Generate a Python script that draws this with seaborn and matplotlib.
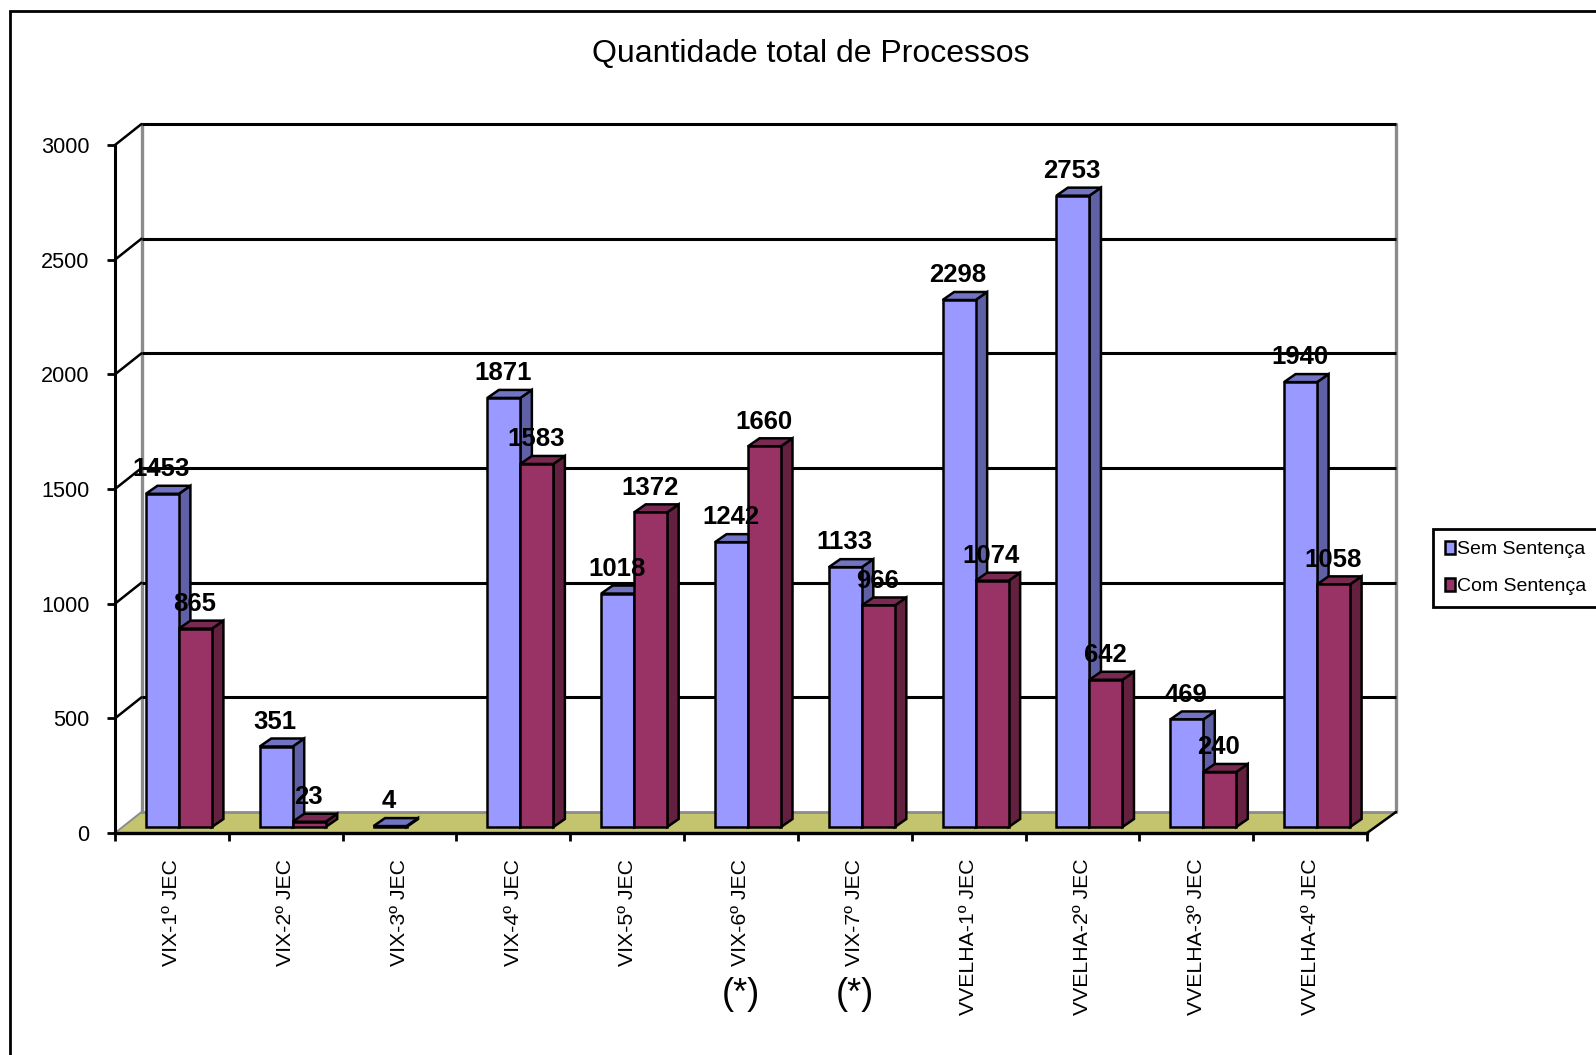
import numpy as np
import pandas as pd
import matplotlib.pyplot as plt
import seaborn as sns
from matplotlib.patches import Polygon, Rectangle, Patch

sns.set_style('white')
plt.rcParams['font.family'] = ['Liberation Sans', 'DejaVu Sans']
plt.rcParams['text.color'] = 'black'
plt.rcParams['xtick.color'] = 'black'
plt.rcParams['ytick.color'] = 'black'

# Data
categories = ['VIX-1º JEC', 'VIX-2º JEC', 'VIX-3º JEC', 'VIX-4º JEC', 'VIX-5º JEC', 'VIX-6º JEC',
              'VIX-7º JEC', 'VVELHA-1º JEC', 'VVELHA-2º JEC', 'VVELHA-3º JEC', 'VVELHA-4º JEC']
sem_sentenca = [1453, 351, 4, 1871, 1018, 1242, 1133, 2298, 2753, 469, 1940]
com_sentenca = [865, 23, np.nan, 1583, 1372, 1660, 966, 1074, 642, 240, 1058]
y_ticks = [0, 500, 1000, 1500, 2000, 2500, 3000]
marked = [5, 6]  # categories flagged with (*)

W, H = 1596, 1055
blue, blue_side, blue_top = '#9999FF', '#6060A6', '#7373C4'
red, red_side, red_top = '#993366', '#64213F', '#7A2A52'
floor_color = '#C4C46E'

df = pd.DataFrame({
    'cat': categories * 2,
    'serie': ['Sem Sentença'] * 11 + ['Com Sentença'] * 11,
    'valor': sem_sentenca + com_sentenca,
})

fig = plt.figure(figsize=(W / 100, H / 100), dpi=100)
# front plane of the fake 3D box
left, right, top, bottom = 115, 1367, 145, 833
ax = fig.add_axes([left / W, 1 - bottom / H, (right - left) / W, (bottom - top) / H])
ax.patch.set_alpha(0)

sns.barplot(data=df, x='cat', y='valor', hue='serie', order=categories,
            hue_order=['Sem Sentença', 'Com Sentença'],
            palette=[blue, red], saturation=1, width=0.58, gap=0, dodge=True,
            edgecolor='black', linewidth=1.8, legend=False, ax=ax)
ax.set_xlim(-0.5, 10.5)
ax.set_ylim(0, 3000)

# pixel -> data factors
px = 1 / ((right - left) / 11)
py = 3000 / (bottom - top)

# back wall and floor
dx_l, dx_r, wall_dy = 26.5 * px, 29 * px, 21 * py
x0, x1 = -0.5, 10.5
xb0, xb1 = x0 + dx_l, x1 + dx_r
ax.add_patch(Polygon([(x0, 0), (x1, 0), (xb1, wall_dy), (xb0, wall_dy)],
                     closed=True, fc=floor_color, ec='none', zorder=1, clip_on=False))
for v in y_ticks[1:]:
    ax.plot([xb0, xb1], [v + wall_dy, v + wall_dy], color='black', lw=2.2,
            zorder=1.5, clip_on=False, solid_capstyle='butt')
    ax.plot([x0, xb0], [v, v + wall_dy], color='black', lw=1.8, zorder=1.5, clip_on=False)
ax.plot([xb0, xb1], [wall_dy, wall_dy], color='#8c8c8c', lw=2, zorder=1.5, clip_on=False)
ax.plot([x1, xb1], [0, wall_dy], color='black', lw=1.8, zorder=1.5, clip_on=False)
ax.plot([x0, xb0], [0, wall_dy], color='#8c8c8c', lw=1.4, zorder=1.5, clip_on=False)
for xw in [xb0, xb1]:
    ax.plot([xw, xw], [wall_dy, 3000 + wall_dy], color='#8c8c8c', lw=2.4, zorder=1.4, clip_on=False)

# bars sit a little behind the front plane, then get side and top faces
bar_dx, bar_dy = 7 * px, 6 * py
depth_x, depth_y = 11.5 * px, 8 * py
faces = [(blue_side, blue_top), (red_side, red_top)]
for s, cont in enumerate(ax.containers):
    side_c, top_c = faces[s]
    for p in cont:
        h = p.get_height()
        # seaborn drops the missing bar, so take the category from the position
        i = int(round(p.get_x() + p.get_width() / 2))
        p.set_x(p.get_x() + bar_dx)
        p.set_y(bar_dy)
        p.set_clip_on(False)
        base = 3 + i + s * 0.2
        p.set_zorder(base + 0.1)
        xa, xb = p.get_x(), p.get_x() + p.get_width()
        ya, yb = bar_dy, bar_dy + h
        ax.add_patch(Polygon([(xb, ya), (xb + depth_x, ya + depth_y), (xb + depth_x, yb + depth_y), (xb, yb)],
                             closed=True, fc=side_c, ec='black', lw=1.8, zorder=base, clip_on=False))
        ax.add_patch(Polygon([(xa, yb), (xa + depth_x, yb + depth_y), (xb + depth_x, yb + depth_y), (xb, yb)],
                             closed=True, fc=top_c, ec='black', lw=1.8, zorder=base, clip_on=False))
        ax.text((xa + xb) / 2 - px, yb + 24.7 * py, f'{h:.0f}', ha='center', va='center', fontsize=18.5,
                fontweight='bold', color='black', zorder=100, clip_on=False)

# axes
sns.despine(ax=ax)
ax.spines['left'].set_linewidth(2.2)
ax.spines['left'].set_zorder(2)
ax.spines['bottom'].set_linewidth(2.4)
ax.spines['bottom'].set_color('black')
ax.spines['left'].set_color('black')
ax.set_yticks(y_ticks)
ax.set_xticks(np.arange(-0.5, 11, 1))
ax.set_xticks(np.arange(11), labels=categories, minor=True, rotation=90)
ax.set_xticklabels([])
ax.tick_params(axis='y', which='major', left=True, length=5.5, width=2, color='black',
               labelsize=15.6, pad=13)
ax.tick_params(axis='x', which='major', bottom=True, length=6, width=2, color='black')
ax.tick_params(axis='x', which='minor', bottom=False, labelsize=15.3, pad=16.5)
ax.set_xlabel('')
ax.set_ylabel('')

for i in marked:
    ax.annotate('(*)', xy=(i, 0), xycoords=('data', 'axes fraction'), xytext=(0, -162),
                textcoords='offset pixels', ha='center', va='center', fontsize=26)

fig.text(811 / W, 1 - 54 / H, 'Quantidade total de Processos', ha='center', va='center', fontsize=23)

# legend and outer frame
handles = [Patch(fc=blue, ec='black', lw=1.8, label='Sem Sentença'),
           Patch(fc=red, ec='black', lw=1.8, label='Com Sentença')]
leg = fig.legend(handles=handles, loc='upper left', bbox_to_anchor=(1433 / W, 1 - 529 / H, 200 / W, 0),
                 mode='expand', fontsize=14, frameon=True, fancybox=False, edgecolor='black', framealpha=1,
                 handlelength=0.55, handleheight=0.7, handletextpad=0.1, labelspacing=1.0,
                 borderpad=0.6, borderaxespad=0, labelcolor='black')
leg.get_frame().set_linewidth(2)
fig.add_artist(Rectangle((9.5 / W, -0.1), 1.1, 1.1 - 11 / H, transform=fig.transFigure,
                         fill=False, ec='black', lw=2, zorder=0))

fig.savefig('out.png', dpi=100)
plt.close(fig)
